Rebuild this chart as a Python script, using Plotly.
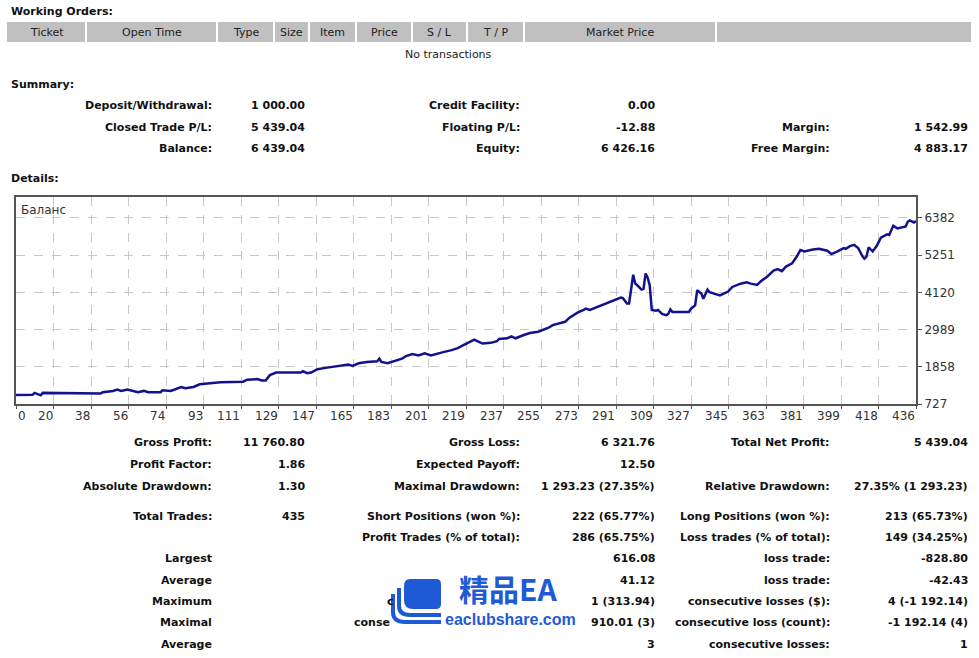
import plotly.graph_objects as go

# ---------------- data ----------------
trade_no = [0, 8, 9, 10, 12, 13, 33, 34, 41, 42, 47, 49, 51, 54, 56, 59, 62, 64, 70, 71, 75, 78, 80, 82, 86,
            89, 94, 99, 110, 112, 117, 119, 121, 123, 126, 138, 139, 141, 143, 146, 150, 154, 159, 161, 163,
            166, 170, 175, 176, 177, 180, 184, 187, 189, 192, 195, 198, 201, 204, 207, 211, 214, 217, 220,
            222, 224, 226, 230, 233, 234, 238, 240, 242, 246, 249, 253, 255, 258, 260, 264, 266, 268, 272,
            275, 276, 278, 281, 284, 287, 289, 293, 294, 296, 297, 298, 299, 300, 301, 303, 304, 305, 306,
            307, 308, 310, 311, 313, 315, 316, 317, 318, 320, 326, 327, 329, 330, 332, 333, 335, 336, 341,
            345, 347, 351, 354, 356, 359, 361, 364, 367, 369, 371, 373, 376, 378, 380, 382, 386, 389, 393,
            395, 398, 401, 402, 404, 406, 408, 410, 411, 412, 413, 415, 417, 419, 422, 423, 425, 427, 431,
            432, 433, 435, 436]
balance = [1000, 1005, 1065, 1045, 990, 1065, 1065, 1045, 1045, 1085, 1125, 1165, 1125, 1165, 1125, 1085,
           1125, 1085, 1085, 1145, 1125, 1205, 1245, 1205, 1245, 1325, 1345, 1385, 1405, 1465, 1485, 1445,
           1445, 1605, 1685, 1685, 1725, 1665, 1685, 1785, 1825, 1865, 1905, 1925, 1885, 1965, 2005, 2025,
           2105, 2005, 1965, 2045, 2105, 2185, 2245, 2205, 2265, 2205, 2245, 2305, 2365, 2425, 2525, 2625,
           2685, 2625, 2565, 2585, 2635, 2705, 2725, 2785, 2725, 2825, 2885, 2925, 2965, 3045, 3125, 3185,
           3225, 3345, 3505, 3585, 3625, 3585, 3665, 3725, 3825, 3865, 3965, 3945, 3785, 3785, 4185, 4655,
           4385, 4335, 4205, 4225, 4695, 4565, 4335, 3585, 3565, 3585, 3465, 3425, 3465, 3605, 3525, 3525,
           3525, 3625, 3725, 4185, 4085, 3925, 4205, 4125, 4025, 4145, 4285, 4385, 4425, 4385, 4345, 4465,
           4605, 4785, 4825, 4765, 4905, 5005, 5185, 5405, 5365, 5425, 5445, 5385, 5285, 5365, 5465, 5445,
           5525, 5565, 5465, 5225, 5145, 5205, 5485, 5365, 5535, 5785, 5885, 5865, 6145, 6065, 6125, 6265,
           6305, 6245, 6285]

y_ticks = [727, 1858, 2989, 4120, 5251, 6382]
x_tick_labels = ["0", "20", "38", "56", "74", "93", "111", "129", "147", "165", "183", "201", "219",
                 "237", "255", "273", "291", "309", "327", "345", "363", "381", "399", "418", "436"]
x_max = 436
y_top = 7019

order_columns = ["Ticket", "Open Time", "Type", "Size", "Item", "Price", "S / L", "T / P", "Market Price", ""]

summary_rows = [
    [("Deposit/Withdrawal:", "1 000.00"), ("Credit Facility:", "0.00"), ("", "")],
    [("Closed Trade P/L:", "5 439.04"), ("Floating P/L:", "-12.88"), ("Margin:", "1 542.99")],
    [("Balance:", "6 439.04"), ("Equity:", "6 426.16"), ("Free Margin:", "4 883.17")],
]

details_rows = [
    [("Gross Profit:", "11 760.80"), ("Gross Loss:", "6 321.76"), ("Total Net Profit:", "5 439.04")],
    [("Profit Factor:", "1.86"), ("Expected Payoff:", "12.50"), ("", "")],
    [("Absolute Drawdown:", "1.30"), ("Maximal Drawdown:", "1 293.23 (27.35%)"),
     ("Relative Drawdown:", "27.35% (1 293.23)")],
    [("Total Trades:", "435"), ("Short Positions (won %):", "222 (65.77%)"),
     ("Long Positions (won %):", "213 (65.73%)")],
    [("", ""), ("Profit Trades (% of total):", "286 (65.75%)"), ("Loss trades (% of total):", "149 (34.25%)")],
    [("Largest", ""), ("", "616.08"), ("loss trade:", "-828.80")],
    [("Average", ""), ("", "41.12"), ("loss trade:", "-42.43")],
    [("Maximum", ""), ("c", "1 (313.94)"), ("consecutive losses ($):", "4 (-1 192.14)")],
    [("Maximal", ""), ("conse", "910.01 (3)"), ("consecutive loss (count):", "-1 192.14 (4)")],
    [("Average", ""), ("", "3"), ("consecutive losses:", "1")],
]

# ---------------- layout helpers (pixel -> paper) ----------------
L, R, T, B = 16, 916, 197, 404


def px(x):
    return (x - L) / (R - L)


def py(y):
    return (B - y) / (B - T)


FONT = "DejaVu Sans"
TXT = "#111111"
annotations = []
shapes = []


def text(x, y, s, anchor="left", size=11, bold=True, color=TXT, family=FONT):
    annotations.append(dict(x=px(x), y=py(y), xref="paper", yref="paper", text=s, showarrow=False,
                            xanchor=anchor, yanchor="middle", borderpad=0,
                            font=dict(family=family, size=size, color=color,
                                      weight="bold" if bold else "normal")))


# Working orders header
text(10, 11, "Working Orders:")
col_edges = [7, 86, 217, 274, 309, 356, 412, 467, 524, 716, 971]
shapes.append(dict(type="rect", xref="paper", yref="paper", x0=px(7), x1=px(971), y0=py(22), y1=py(42),
                   fillcolor="#c0c0c0", line=dict(width=0), layer="below"))
for e in col_edges[1:-1]:
    shapes.append(dict(type="line", xref="paper", yref="paper", x0=px(e), x1=px(e), y0=py(22), y1=py(42),
                       line=dict(color="white", width=2)))
for i, c in enumerate(order_columns):
    if c:
        text((col_edges[i] + col_edges[i + 1]) / 2, 32, c, anchor="center", bold=False, color="#222")
text(448, 54, "No transactions", anchor="center", bold=False, color="#222")

# Summary
text(10, 84, "Summary:")
col_lab = [213, 521, 831]
col_val = [306, 656, 969]
for r, yy in zip(summary_rows, [105, 127, 148]):
    for k, (lab, val) in enumerate(r):
        if lab:
            text(col_lab[k], yy, lab, anchor="right")
        if val:
            text(col_val[k], yy, val, anchor="right")
text(10, 178, "Details:")

det_y = [442, 464, 486, 516, 537, 558, 580, 601, 622, 644]
for r, yy in zip(details_rows, det_y):
    for k, (lab, val) in enumerate(r):
        if lab:
            if lab in ("c", "conse"):
                text(386 if lab == "c" else 353, yy, lab, anchor="left")
            else:
                text(col_lab[k], yy, lab, anchor="right")
        if val:
            text(col_val[k], yy, val, anchor="right")

# chart inner label
text(20, 210, "Баланс", bold=False, size=12, color="#333")

# x tick labels (MT4 style: right-aligned to grid line)
grid_x = [x_max * k / 24 for k in range(25)]
for k, lab in enumerate(x_tick_labels):
    annotations.append(dict(x=grid_x[k], y=py(416), xref="x", yref="paper", text=lab, showarrow=False,
                            xanchor="left" if k == 0 else "right", yanchor="middle", borderpad=0,
                            xshift=1 if k == 0 else 0,
                            font=dict(family=FONT, size=12, color="#333")))

# watermark logo
BLUE = "#1f5ad6"


def P(x, y):
    return f"{px(x):.5f},{py(y):.5f}"


shapes.append(dict(type="path", xref="paper", yref="paper",
                   path=f"M {P(410,579)} L {P(436,579)} Q {P(441,579)} {P(441,584)} L {P(441,604)} "
                        f"Q {P(441,609)} {P(436,609)} L {P(413,609)} Q {P(404,609)} {P(404,600)} "
                        f"L {P(404,586)} Q {P(404,579)} {P(410,579)} Z",
                   fillcolor=BLUE, line=dict(width=0)))
shapes.append(dict(type="path", xref="paper", yref="paper",
                   path=f"M {P(399,588)} L {P(399,606)} Q {P(399,615)} {P(410,615)} L {P(441,615)}",
                   line=dict(color=BLUE, width=4)))
shapes.append(dict(type="path", xref="paper", yref="paper",
                   path=f"M {P(393,594)} L {P(393,612)} Q {P(393,622)} {P(405,622)} L {P(441,622)}",
                   line=dict(color=BLUE, width=4)))
text(508, 588, "精品EA", anchor="center", size=30, color=BLUE, family="Noto Sans CJK SC")
text(510, 619, "eaclubshare.com", anchor="center", size=16, color=BLUE, family="Liberation Sans")

# ---------------- figure ----------------
fig = go.Figure()
fig.add_trace(go.Scatter(x=trade_no, y=balance, mode="lines",
                         line=dict(color="#12128e", width=2.5), hoverinfo="skip"))

fig.update_layout(
    width=979, height=658,
    margin=dict(l=L, r=979 - R, t=T, b=658 - B, pad=0),
    paper_bgcolor="white", plot_bgcolor="white",
    showlegend=False,
    annotations=annotations,
    shapes=shapes,
    xaxis=dict(range=[0, x_max], tickvals=grid_x, showticklabels=False, ticks="outside", ticklen=3,
               tickcolor="#555", showgrid=True, gridcolor="#c8c8c8", griddash="dash", gridwidth=1,
               showline=True, linecolor="#555", linewidth=2, mirror=True, zeroline=False, fixedrange=True),
    yaxis=dict(range=[727, y_top], side="right", tickvals=y_ticks, ticktext=[str(v) for v in y_ticks],
               ticks="outside", ticklen=4, tickcolor="#555",
               tickfont=dict(family=FONT, size=12, color="#333"),
               showgrid=True, gridcolor="#c8c8c8", griddash="dash", gridwidth=1,
               showline=True, linecolor="#555", linewidth=2, mirror=True, zeroline=False, fixedrange=True),
)

fig.write_html("out.html", config={"displayModeBar": False})
